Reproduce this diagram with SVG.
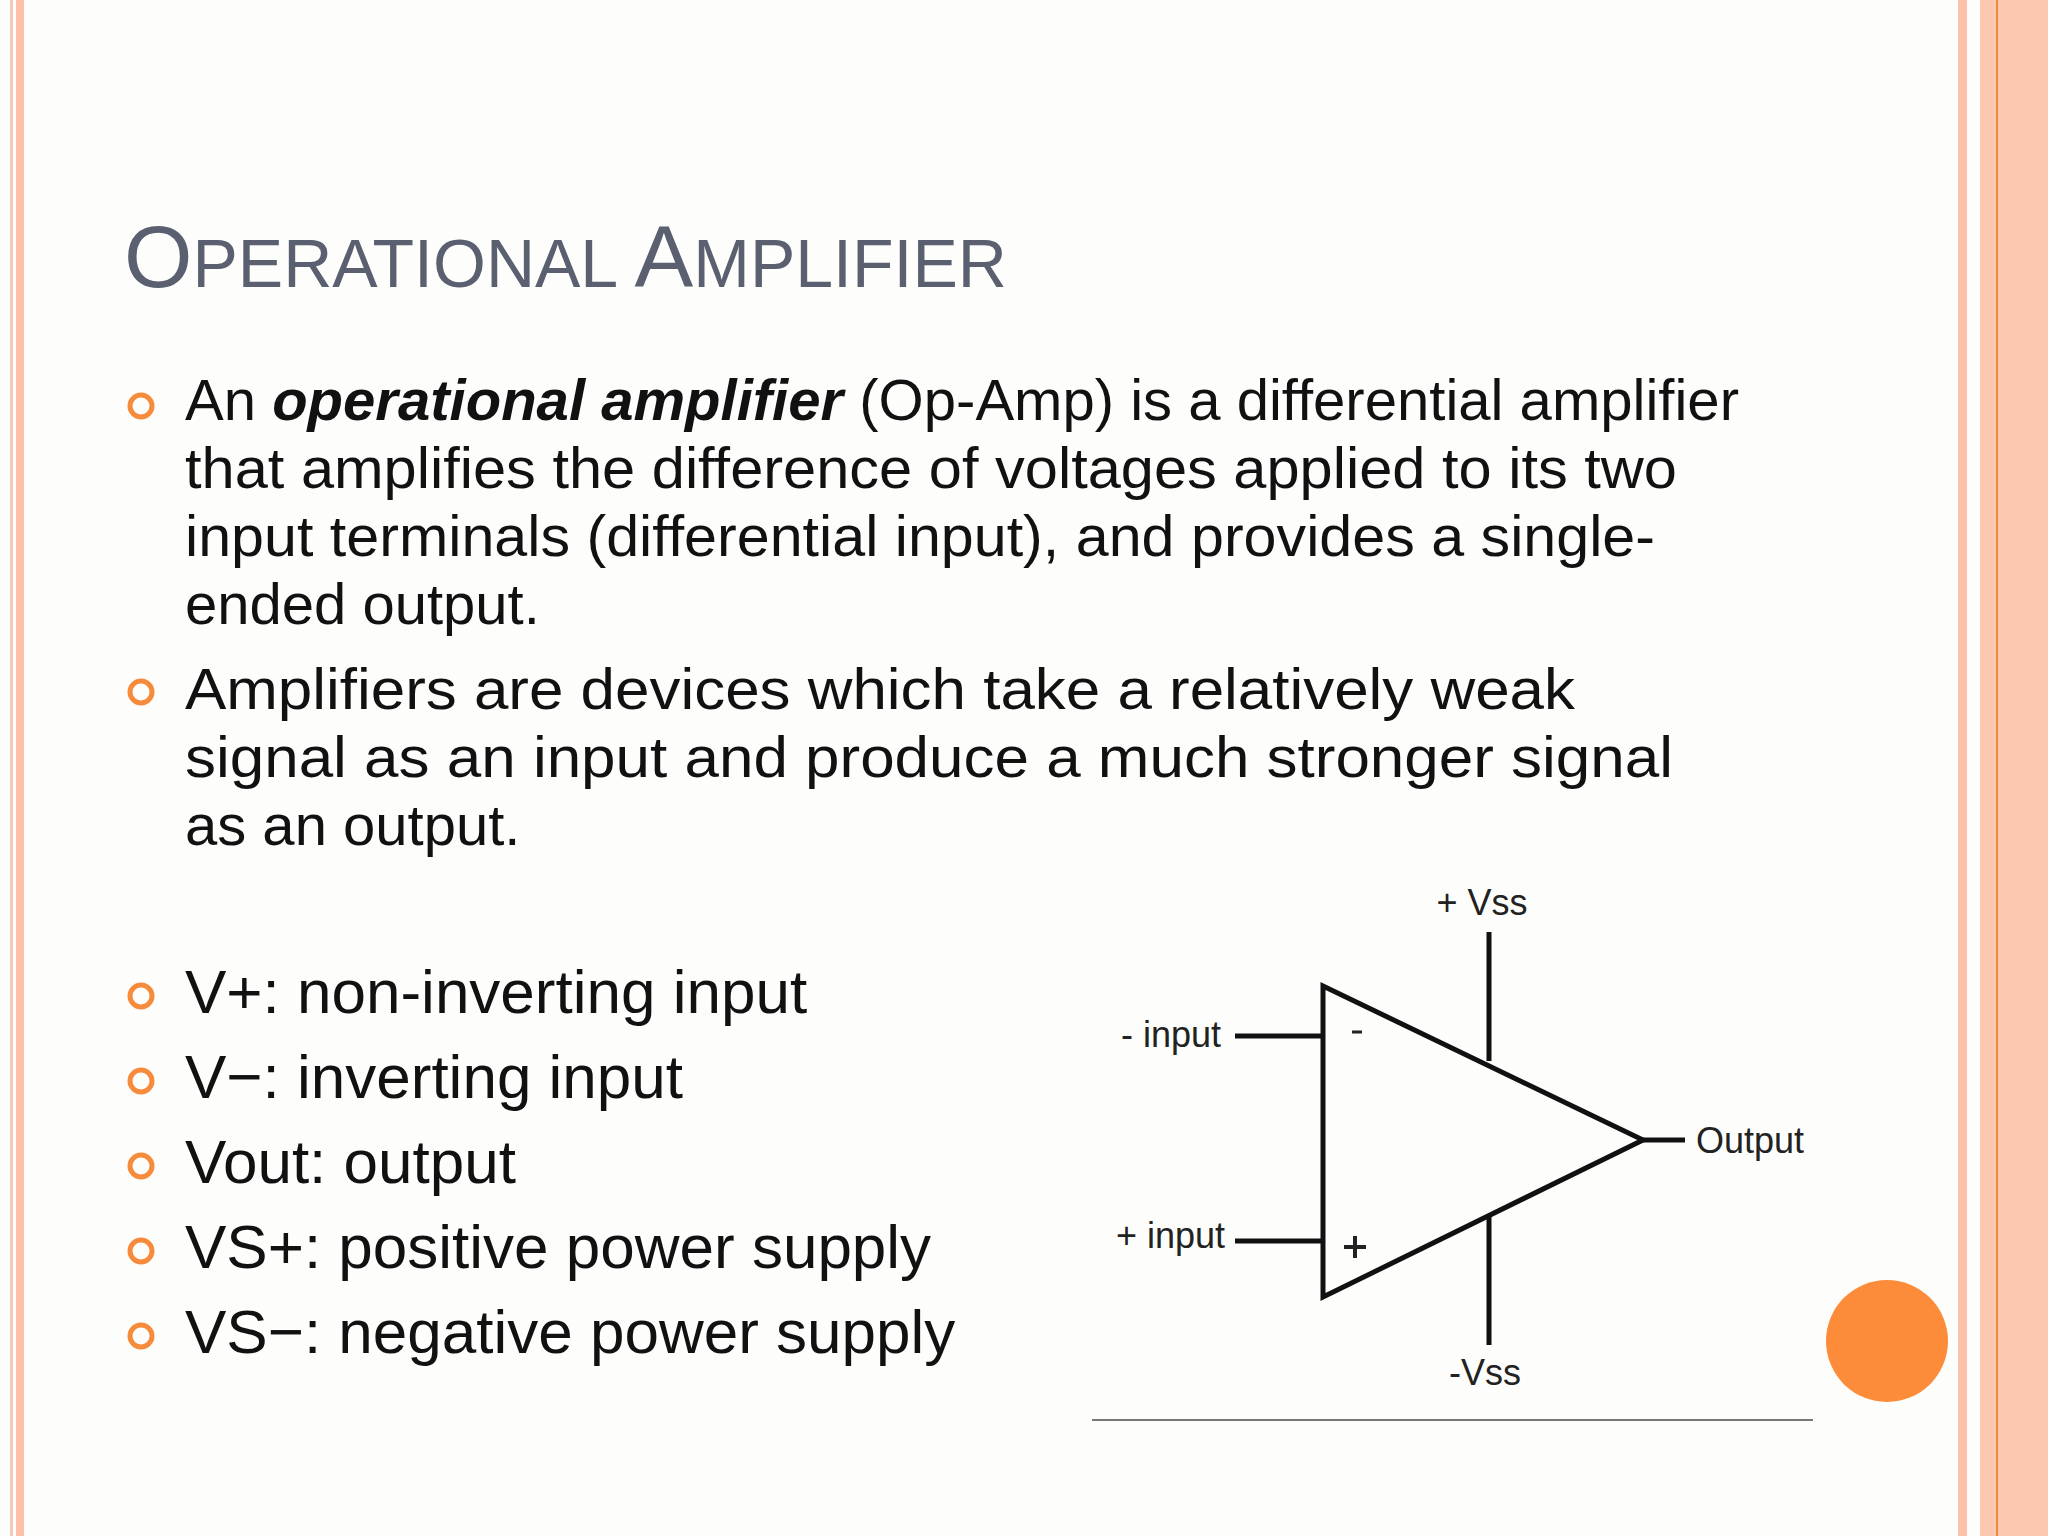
<svg xmlns="http://www.w3.org/2000/svg" width="2048" height="1536" viewBox="0 0 2048 1536">
<style>
.t{font-family:"Liberation Sans",Arial,sans-serif;fill:#111}
.b{fill:none;stroke:#f68b3c;stroke-width:5}
.w{stroke:#111;stroke-width:5;fill:none}
.d{font-family:"Liberation Sans",Arial,sans-serif;font-size:36px;fill:#222}
</style>
<rect width="2048" height="1536" fill="#fdfefc"/>
<rect x="10" y="0" width="3" height="1536" fill="#f3c9bb"/>
<rect x="16" y="0" width="8" height="1536" fill="#fdc0a8"/>
<rect x="1958" y="0" width="9" height="1536" fill="#fdc0a8"/>
<rect x="1980" y="0" width="68" height="1536" fill="#fcc8b0"/>
<rect x="1996" y="0" width="2" height="1536" fill="#f08a40"/>
<text x="124" y="287" font-family="Liberation Sans,Arial,sans-serif" font-size="88" fill="#5a6070">O<tspan font-size="68">PERATIONAL </tspan>A<tspan font-size="68">MPLIFIER</tspan></text>
<g id="bullets">
<circle class="b" cx="141" cy="406" r="11"/>
<circle class="b" cx="141" cy="692" r="11"/>
<circle class="b" cx="141" cy="996" r="11"/>
<circle class="b" cx="141" cy="1081" r="11"/>
<circle class="b" cx="141" cy="1166" r="11"/>
<circle class="b" cx="141" cy="1251" r="11"/>
<circle class="b" cx="141" cy="1336" r="11"/>
</g>
<g class="t" font-size="58">
<text x="185" y="420" textLength="1554" lengthAdjust="spacingAndGlyphs">An <tspan font-weight="bold" font-style="italic">operational amplifier</tspan> (Op-Amp) is a differential amplifier</text>
<text x="185" y="488" textLength="1492" lengthAdjust="spacingAndGlyphs">that amplifies the difference of voltages applied to its two</text>
<text x="185" y="556" textLength="1470" lengthAdjust="spacingAndGlyphs">input terminals (differential input), and provides a single-</text>
<text x="185" y="624">ended output.</text>
<text x="185" y="709" textLength="1390" lengthAdjust="spacingAndGlyphs">Amplifiers are devices which take a relatively weak</text>
<text x="185" y="777" textLength="1488" lengthAdjust="spacingAndGlyphs">signal as an input and produce a much stronger signal</text>
<text x="185" y="845">as an output.</text>
</g>
<g class="t" font-size="62">
<text x="185" y="1013">V+: non-inverting input</text>
<text x="185" y="1098">V−: inverting input</text>
<text x="185" y="1183">Vout: output</text>
<text x="185" y="1268">VS+: positive power supply</text>
<text x="185" y="1353">VS−: negative power supply</text>
</g>
<g id="opamp">
<polygon class="w" points="1323,986 1643,1140 1323,1297"/>
<line x1="1352" y1="1032" x2="1362" y2="1032" stroke="#222" stroke-width="3"/>
<line x1="1344" y1="1247" x2="1366" y2="1247" stroke="#222" stroke-width="4"/>
<line x1="1355" y1="1236" x2="1355" y2="1258" stroke="#222" stroke-width="4"/>
</g>
<g id="connectors">
<line class="w" x1="1235" y1="1036" x2="1323" y2="1036"/>
<line class="w" x1="1235" y1="1241" x2="1323" y2="1241"/>
<line class="w" x1="1489" y1="932" x2="1489" y2="1061"/>
<line class="w" x1="1489" y1="1216" x2="1489" y2="1345"/>
<line class="w" x1="1643" y1="1140" x2="1685" y2="1140"/>
</g>
<text class="d" x="1482" y="915" text-anchor="middle">+ Vss</text>
<text class="d" x="1221" y="1047" text-anchor="end">- input</text>
<text class="d" x="1225" y="1248" text-anchor="end">+ input</text>
<text class="d" x="1696" y="1153">Output</text>
<text class="d" x="1485" y="1385" text-anchor="middle">-Vss</text>
<line x1="1092" y1="1420" x2="1813" y2="1420" stroke="#777" stroke-width="2"/>
<circle cx="1887" cy="1341" r="61" fill="#fd8c3a"/>
</svg>
